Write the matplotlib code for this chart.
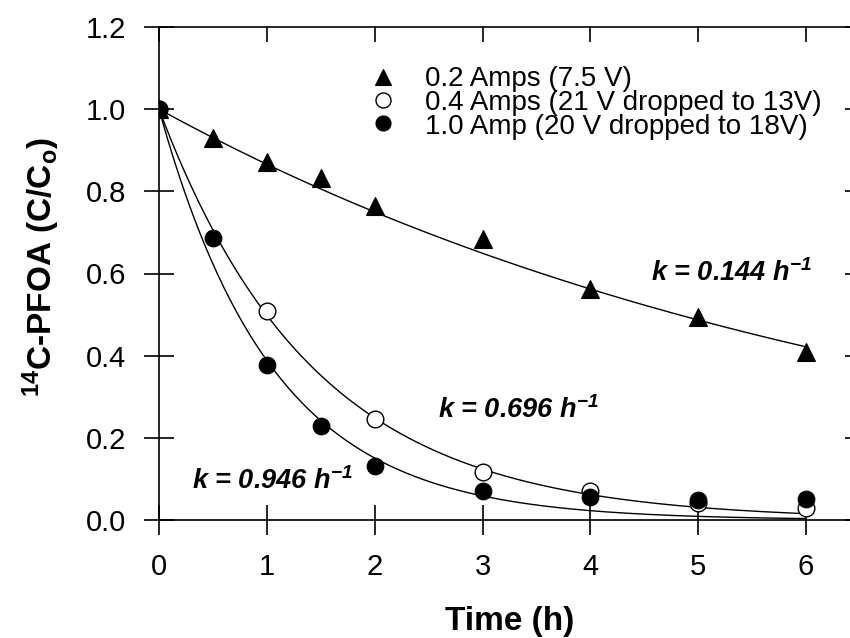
import numpy as np
import matplotlib
matplotlib.use("Agg")
import matplotlib.pyplot as plt

plt.rcParams['font.family'] = ['Liberation Sans', 'DejaVu Sans']
plt.rcParams['mathtext.default'] = 'regular'

# ---- data ----
t_02 = [0, 0.5, 1, 1.5, 2, 3, 4, 5, 6]
c_02 = [1.0, 0.93, 0.872, 0.832, 0.765, 0.684, 0.563, 0.495, 0.410]

t_04 = [0, 1, 2, 3, 4, 5, 6]
c_04 = [1.0, 0.508, 0.246, 0.118, 0.071, 0.041, 0.029]

t_10 = [0, 0.5, 1, 1.5, 2, 3, 4, 5, 6]
c_10 = [1.0, 0.686, 0.377, 0.229, 0.131, 0.070, 0.057, 0.049, 0.051]

k_values = [0.144, 0.696, 0.946]
labels = ["0.2 Amps (7.5 V)", "0.4 Amps (21 V dropped to 13V)", "1.0 Amp (20 V dropped to 18V)"]
k_label_pos = [(5.31, 0.600), (3.33, 0.268), (1.05, 0.095)]

x_ticks = [0, 1, 2, 3, 4, 5, 6]
y_ticks = [0.0, 0.2, 0.4, 0.6, 0.8, 1.0, 1.2]

W, H = 850, 638
fig = plt.figure(figsize=(W / 100, H / 100), dpi=100)
left, right, top, bottom = 159, 860, 27, 520
ax = fig.add_axes([left / W, 1 - bottom / H, (right - left) / W, (bottom - top) / H])

ax.set_xlim(0, 6.5)
ax.set_ylim(0, 1.2)

def ax_x(px):
    return (px - left) / (right - left)

def ax_y(py):
    return (bottom - py) / (bottom - top)

# fitted first-order curves C/Co = exp(-k t)
tt = np.linspace(0, 6, 300)
for k in k_values:
    ax.plot(tt, np.exp(-k * tt), color='black', lw=1.0, zorder=2)

styles = [dict(marker='^', ms=13, mfc='black', mec='black', mew=0.8),
          dict(marker='o', ms=12, mfc='white', mec='black', mew=1.0),
          dict(marker='o', ms=12, mfc='black', mec='black', mew=0.8)]
series = [(t_02, c_02), (t_04, c_04), (t_10, c_10)]
for (t, c), st, z in zip(series, styles, [3, 3, 4]):
    ax.plot(t, c, linestyle='none', zorder=z, **st)

for (x, y), k in zip(k_label_pos, k_values):
    ax.text(x, y, "k = %.3f h$^{-1}$" % k, ha='center', va='center',
            fontsize=19.5, fontweight='bold', fontstyle='italic')

# legend drawn manually (tight row spacing as in the reference)
row_y = [77, 100, 123]
for py, st in zip(row_y, styles):
    st2 = dict(st)
    st2['ms'] = st['ms'] * 0.9
    ax.plot([ax_x(383)], [ax_y(py)], transform=ax.transAxes, linestyle='none',
            clip_on=False, zorder=5, **st2)
ax.text(ax_x(425), ax_y(66), "\n".join(labels), transform=ax.transAxes,
        ha='left', va='top', fontsize=20, linespacing=0.89)

ax.set_xticks(x_ticks)
ax.set_yticks(y_ticks)
ax.set_xticklabels([str(v) for v in x_ticks])
ax.set_yticklabels(["%.1f" % v for v in y_ticks])

for s in ax.spines.values():
    s.set_linewidth(1.2)

ax.tick_params(axis='both', which='major', direction='inout', length=21, width=1.2,
               labelsize=21, pad=13)
ax.tick_params(top=True, right=True, labeltop=False, labelright=False)
# top/right ticks point inward
for tk in ax.xaxis.get_major_ticks():
    tk.tick2line.set_marker(matplotlib.lines.TICKDOWN)
    tk.tick2line.set_markersize(10.8)
for tk in ax.yaxis.get_major_ticks():
    tk.tick2line.set_marker(matplotlib.lines.TICKLEFT)
    tk.tick2line.set_markersize(10.8)

ax.set_xlabel("Time (h)", fontsize=24, fontweight='bold')
ax.xaxis.set_label_coords(ax_x(510), ax_y(606))
ax.xaxis.label.set_va('top')
ax.set_ylabel("$^{14}$C-PFOA (C/C$_{o}$)", fontsize=24, fontweight='bold')
ax.yaxis.set_label_coords(ax_x(62), ax_y(267))

fig.savefig("out.png", dpi=100)
